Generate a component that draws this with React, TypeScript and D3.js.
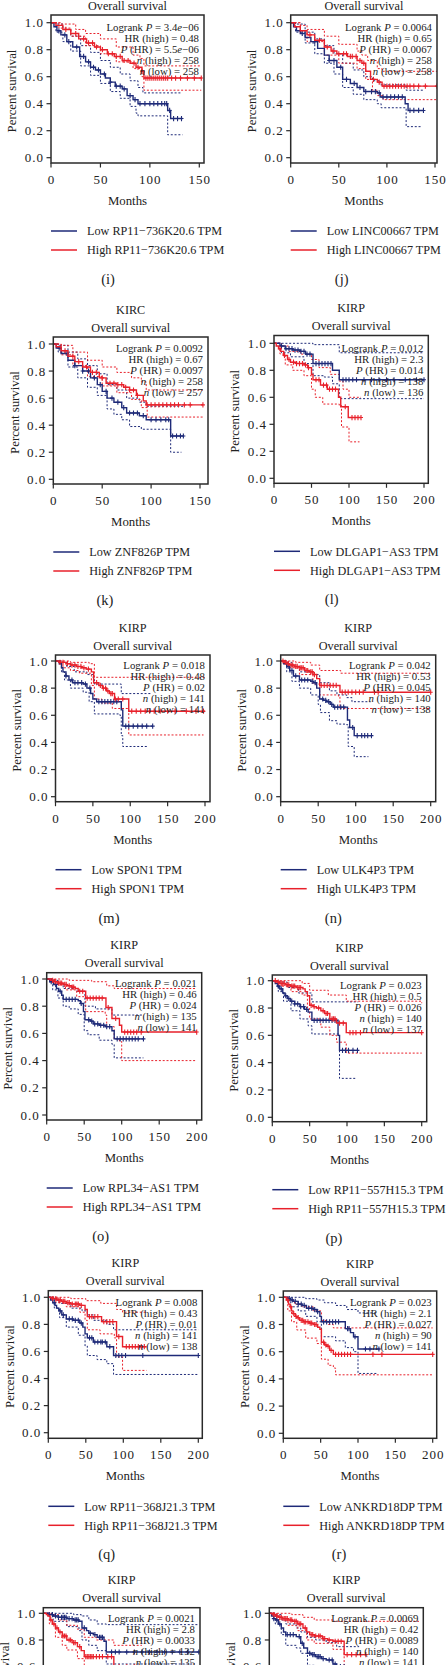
import React from "react";
import * as d3 from "d3";

type Pt = [number, number];

// ---------- text data ----------
const panelLetters = ["(i)", "(j)", "(k)", "(l)", "(m)", "(n)", "(o)", "(p)", "(q)", "(r)", "(s)", "(t)"];
const cancers = ["KIRC", "KIRC", "KIRC", "KIRP", "KIRP", "KIRP", "KIRP", "KIRP", "KIRP", "KIRP", "KIRP", "KIRP"];
const genes: (string | null)[] = ["RP11−736K20.6", "LINC00667", "ZNF826P", "DLGAP1−AS3", "SPON1", "ULK4P3", "RPL34−AS1", "RP11−557H15.3", "RP11−368J21.3", "ANKRD18DP", null, null];
const logrankP = ["3.4e−06", "0.0064", "0.0092", "0.012", "0.018", "0.042", "0.021", "0.023", "0.008", "0.023", "0.0021", "0.0069"];
const hrHigh = ["0.48", "0.65", "0.67", "2.3", "0.48", "0.53", "0.46", "0.5", "0.43", "2.1", "2.8", "0.42"];
const pHR = ["5.5e−06", "0.0067", "0.0097", "0.014", "0.02", "0.045", "0.024", "0.026", "0.01", "0.027", "0.0033", "0.0089"];
const nHigh = ["258", "258", "258", "138", "141", "140", "135", "140", "141", "90", "132", "140"];
const nLow = ["258", "258", "257", "136", "141", "138", "141", "137", "138", "141", "135", "141"];
const xTicks150 = [0, 50, 100, 150];
const xTicks200 = [0, 50, 100, 150, 200];
const yTicks = [0, 0.2, 0.4, 0.6, 0.8, 1.0];

// ---------- survival data (month, survival) ----------
// panel i
const iHigh: Pt[] = [[0,1],[5,0.98],[12,0.95],[20,0.92],[28,0.88],[36,0.85],[44,0.82],[50,0.80],[57,0.77],[64,0.75],[72,0.72],[80,0.70],[86,0.67],[92,0.64],[94,0.59],[152,0.59]];
const iHighUp: Pt[] = [[0,1],[10,0.99],[25,0.95],[35,0.92],[50,0.88],[66,0.82],[83,0.76],[90,0.735],[94,0.68],[152,0.68]];
const iHighLo: Pt[] = [[0,1],[8,0.96],[20,0.90],[35,0.83],[50,0.77],[66,0.71],[83,0.66],[92,0.60],[94,0.50],[152,0.50]];
const iHighCens = [15,25,33,38,42,46,52,58,62,66,70,74,78,84,88,92,96,98,100,102,104,106,108,110,112,114,116,118,122,126,131,138,145,152];
const iLow: Pt[] = [[0,1],[3,0.97],[6,0.94],[10,0.91],[16,0.86],[22,0.82],[29,0.75],[35,0.71],[40,0.67],[45,0.65],[50,0.62],[55,0.59],[60,0.56],[65,0.53],[72,0.51],[77,0.46],[83,0.43],[88,0.40],[118,0.35],[121,0.29],[133,0.29]];
const iLowUp: Pt[] = [[0,1],[5,0.99],[12,0.95],[20,0.90],[30,0.83],[40,0.78],[50,0.72],[60,0.67],[70,0.62],[80,0.57],[88,0.52],[93,0.48],[132,0.48]];
const iLowLo: Pt[] = [[0,1],[5,0.93],[12,0.86],[20,0.79],[30,0.68],[40,0.61],[50,0.55],[60,0.49],[70,0.44],[80,0.38],[86,0.33],[88,0.31],[118,0.17],[133,0.17]];
const iLowCens = [8,14,18,26,33,38,43,48,54,60,66,70,74,80,85,90,95,100,104,108,112,115,117,120,124,128,132];
// panel j
const jHigh: Pt[] = [[0,1],[4,0.97],[10,0.94],[17,0.91],[25,0.87],[35,0.82],[42,0.79],[48,0.77],[59,0.75],[69,0.72],[74,0.70],[78,0.64],[83,0.58],[90,0.56],[95,0.53],[152,0.53]];
const jHighUp: Pt[] = [[0,1],[10,0.98],[17,0.95],[35,0.90],[50,0.84],[69,0.79],[74,0.76],[80,0.72],[90,0.66],[95,0.64],[152,0.64]];
const jHighLo: Pt[] = [[0,1],[10,0.92],[17,0.86],[35,0.76],[50,0.70],[69,0.66],[78,0.58],[85,0.50],[90,0.46],[96,0.43],[152,0.43]];
const jHighCens = [20,30,38,44,50,55,58,62,64,68,72,76,86,92,97,100,103,106,109,112,115,118,121,124,128,133,140,152];
const jLow: Pt[] = [[0,1],[3,0.97],[6,0.94],[10,0.92],[15,0.89],[21,0.86],[28,0.81],[35,0.76],[40,0.72],[48,0.67],[54,0.58],[62,0.55],[69,0.52],[76,0.49],[90,0.48],[93,0.45],[119,0.40],[122,0.35],[138,0.35]];
const jLowUp: Pt[] = [[0,1],[5,0.99],[15,0.93],[25,0.88],[35,0.83],[45,0.77],[54,0.70],[65,0.65],[76,0.60],[85,0.57],[93,0.54],[120,0.50],[138,0.50]];
const jLowLo: Pt[] = [[0,1],[5,0.93],[15,0.85],[25,0.77],[35,0.70],[45,0.62],[54,0.52],[65,0.47],[76,0.43],[90,0.40],[94,0.37],[120,0.23],[136,0.23]];
const jLowCens = [12,25,40,45,52,58,66,72,78,84,88,92,96,100,104,108,112,116,124,128,133,138];
// panel k
const kHigh: Pt[] = [[0,1],[3,0.98],[8,0.95],[15,0.91],[22,0.87],[30,0.83],[38,0.79],[47,0.75],[54,0.71],[65,0.70],[72,0.68],[78,0.66],[85,0.62],[92,0.58],[95,0.55],[153,0.55]];
const kHighUp: Pt[] = [[0,1],[8,0.99],[20,0.94],[35,0.88],[50,0.83],[65,0.79],[80,0.75],[90,0.72],[95,0.66],[153,0.66]];
const kHighLo: Pt[] = [[0,1],[8,0.92],[20,0.84],[35,0.76],[50,0.69],[65,0.64],[80,0.59],[90,0.53],[96,0.46],[153,0.46]];
const kHighCens = [12,20,26,34,40,44,50,58,62,66,70,74,78,82,86,96,100,104,108,112,116,120,124,128,134,140,153];
const kLow: Pt[] = [[0,1],[3,0.97],[8,0.93],[15,0.88],[22,0.84],[30,0.80],[38,0.75],[45,0.70],[50,0.65],[55,0.60],[62,0.57],[70,0.53],[75,0.49],[88,0.47],[95,0.44],[120,0.32],[133,0.32]];
const kLowUp: Pt[] = [[0,1],[5,0.99],[15,0.94],[25,0.89],[35,0.84],[45,0.78],[55,0.70],[65,0.66],[75,0.60],[88,0.57],[95,0.54],[133,0.54]];
const kLowLo: Pt[] = [[0,1],[5,0.94],[15,0.83],[25,0.75],[35,0.68],[45,0.62],[55,0.52],[62,0.48],[70,0.44],[78,0.39],[90,0.37],[120,0.20],[131,0.20]];
const kLowCens = [6,14,22,30,36,42,48,54,60,66,72,78,82,86,92,100,105,110,115,118,122,126,130,133];
// panel l
const lHigh: Pt[] = [[0,1],[3,0.98],[6,0.96],[9,0.94],[13,0.91],[18,0.88],[22,0.86],[30,0.85],[40,0.84],[45,0.82],[50,0.77],[52,0.73],[62,0.69],[71,0.66],[86,0.60],[89,0.53],[99,0.45],[116,0.45]];
const lHighUp: Pt[] = [[0,1],[10,0.98],[20,0.94],[35,0.92],[50,0.88],[60,0.82],[75,0.77],[87,0.72],[92,0.66],[100,0.60],[116,0.60]];
const lHighLo: Pt[] = [[0,1],[8,0.92],[15,0.84],[25,0.80],[40,0.76],[50,0.66],[55,0.60],[65,0.55],[87,0.54],[90,0.38],[100,0.27],[114,0.27]];
const lHighCens = [8,14,20,26,30,34,38,42,46,56,60,66,70,74,78,82,95,104,108,112,116];
const lLow: Pt[] = [[0,1],[8,0.98],[15,0.96],[25,0.95],[35,0.94],[42,0.92],[52,0.85],[78,0.80],[87,0.73],[200,0.73]];
const lLowUp: Pt[] = [[0,1],[52,0.99],[87,0.93],[200,0.93]];
const lLowLo: Pt[] = [[0,1],[10,0.93],[22,0.90],[40,0.85],[52,0.76],[67,0.75],[78,0.70],[87,0.59],[200,0.59]];
const lLowCens = [10,16,20,24,28,32,36,40,44,48,56,60,64,68,72,76,92,96,100,105,110,120,130,140,150,160,175,190,200];
// panel m
const mHigh: Pt[] = [[0,1],[5,0.99],[14,0.98],[20,0.97],[28,0.96],[35,0.95],[41,0.94],[48,0.92],[51,0.84],[58,0.82],[63,0.80],[68,0.78],[72,0.76],[79,0.72],[98,0.63],[200,0.63]];
const mHighUp: Pt[] = [[0,1],[20,0.99],[45,0.98],[52,0.88],[200,0.88]];
const mHighLo: Pt[] = [[0,1],[10,0.95],[20,0.93],[32,0.91],[48,0.82],[52,0.72],[62,0.69],[76,0.65],[98,0.455],[198,0.455]];
const mHighCens = [6,10,16,22,26,30,34,38,44,55,60,64,67,70,74,76,80,84,90,102,108,114,120,126,132,140,150,160,175,188,198];
const mLow: Pt[] = [[0,1],[5,0.98],[8,0.95],[10,0.92],[14,0.89],[18,0.86],[23,0.84],[37,0.83],[42,0.80],[47,0.76],[50,0.72],[55,0.70],[86,0.70],[88,0.64],[90,0.52],[130,0.52]];
const mLowUp: Pt[] = [[0,1],[8,0.99],[15,0.96],[25,0.92],[42,0.90],[50,0.88],[52,0.83],[86,0.83],[88,0.76],[128,0.76]];
const mLowLo: Pt[] = [[0,1],[8,0.92],[12,0.86],[20,0.80],[37,0.77],[45,0.70],[52,0.61],[86,0.60],[88,0.45],[90,0.37],[124,0.37]];
const mLowCens = [14,22,26,30,35,40,46,58,62,66,70,74,78,82,94,98,104,110,116,122,130];
// panel n
const nHighS: Pt[] = [[0,1],[4,0.99],[8,0.98],[12,0.97],[18,0.96],[25,0.95],[32,0.93],[38,0.92],[43,0.90],[48,0.87],[52,0.82],[77,0.82],[79,0.77],[200,0.77]];
const nHighUp: Pt[] = [[0,1],[20,0.99],[40,0.97],[52,0.93],[80,0.91],[200,0.91]];
const nHighLo: Pt[] = [[0,1],[10,0.95],[25,0.90],[43,0.83],[52,0.75],[77,0.74],[79,0.65],[198,0.65]];
const nHighCens = [3,6,10,14,16,20,22,26,28,30,34,36,40,42,45,54,58,62,66,70,74,82,86,90,95,100,105,110,125,130,200];
const nLowS: Pt[] = [[0,1],[4,0.98],[8,0.96],[12,0.93],[17,0.89],[25,0.86],[40,0.85],[44,0.84],[48,0.80],[52,0.72],[57,0.71],[61,0.70],[66,0.68],[70,0.66],[88,0.66],[89,0.565],[92,0.51],[98,0.45],[122,0.45]];
const nLowUp: Pt[] = [[0,1],[8,0.99],[15,0.96],[25,0.92],[45,0.90],[52,0.84],[65,0.78],[75,0.75],[88,0.73],[95,0.70],[120,0.70]];
const nLowLo: Pt[] = [[0,1],[8,0.92],[15,0.85],[25,0.80],[40,0.75],[50,0.68],[53,0.62],[65,0.56],[75,0.535],[88,0.53],[90,0.37],[98,0.295],[117,0.295]];
const nLowCens = [10,15,20,28,32,36,42,46,56,60,64,68,72,76,80,84,96,102,108,112,116,121];
// panel o
const oHigh: Pt[] = [[0,1],[5,0.99],[9,0.98],[15,0.97],[22,0.96],[27,0.95],[33,0.94],[38,0.93],[42,0.91],[52,0.86],[78,0.86],[79,0.79],[87,0.71],[97,0.66],[100,0.61],[200,0.61]];
const oHighUp: Pt[] = [[0,1],[30,0.99],[60,0.98],[80,0.95],[90,0.93],[200,0.93]];
const oHighLo: Pt[] = [[0,1],[10,0.96],[25,0.92],[40,0.87],[52,0.76],[78,0.735],[80,0.65],[90,0.56],[97,0.54],[100,0.40],[200,0.40]];
const oHighCens = [8,12,16,18,20,24,26,30,34,36,44,48,54,58,62,66,70,74,82,92,104,108,112,116,120,126,200];
const oLow: Pt[] = [[0,1],[4,0.98],[9,0.96],[13,0.93],[16,0.91],[20,0.88],[22,0.85],[42,0.84],[45,0.82],[49,0.76],[51,0.70],[58,0.69],[62,0.67],[70,0.66],[78,0.65],[87,0.62],[90,0.56],[129,0.56]];
const oLowUp: Pt[] = [[0,1],[10,0.99],[15,0.96],[22,0.93],[40,0.91],[51,0.80],[65,0.78],[87,0.735],[129,0.735]];
const oLowLo: Pt[] = [[0,1],[8,0.92],[15,0.86],[22,0.80],[30,0.78],[42,0.74],[50,0.62],[55,0.59],[70,0.55],[87,0.52],[90,0.42],[129,0.42]];
const oLowCens = [6,12,18,26,30,34,38,46,56,60,64,68,72,76,80,84,94,98,102,106,110,114,118,122,129];
// panel p
const pHigh: Pt[] = [[0,1],[6,0.99],[10,0.98],[18,0.97],[24,0.96],[32,0.95],[41,0.94],[44,0.92],[47,0.89],[50,0.82],[55,0.81],[59,0.80],[65,0.78],[70,0.76],[77,0.72],[86,0.69],[99,0.62],[200,0.62]];
const pHighUp: Pt[] = [[0,1],[40,0.98],[50,0.93],[75,0.895],[99,0.85],[200,0.835]];
const pHighLo: Pt[] = [[0,1],[10,0.96],[25,0.92],[40,0.895],[47,0.80],[50,0.72],[65,0.66],[77,0.60],[86,0.55],[99,0.47],[200,0.47]];
const pHighCens = [4,8,12,14,16,20,22,26,28,30,34,36,38,52,56,62,68,72,74,80,82,84,90,95,104,108,112,118,200];
const pLow: Pt[] = [[0,1],[4,0.98],[7,0.96],[10,0.94],[14,0.91],[17,0.89],[20,0.87],[24,0.85],[30,0.83],[37,0.81],[43,0.79],[48,0.77],[53,0.71],[87,0.71],[88,0.60],[90,0.49],[115,0.49]];
const pLowUp: Pt[] = [[0,1],[10,0.99],[20,0.95],[35,0.91],[53,0.845],[115,0.845]];
const pLowLo: Pt[] = [[0,1],[8,0.92],[15,0.85],[25,0.78],[37,0.72],[48,0.67],[53,0.61],[87,0.61],[90,0.285],[113,0.285]];
const pLowCens = [8,12,18,22,26,30,34,38,42,46,56,60,64,68,72,76,80,84,94,98,102,108,114];
// panel q
const qHigh: Pt[] = [[0,1],[4,0.99],[11,0.98],[18,0.97],[24,0.96],[30,0.95],[42,0.94],[49,0.91],[52,0.857],[69,0.857],[71,0.82],[88,0.82],[91,0.71],[99,0.635],[131,0.635]];
const qHighUp: Pt[] = [[0,1],[30,0.99],[50,0.975],[70,0.955],[91,0.91],[99,0.89],[131,0.89]];
const qHighLo: Pt[] = [[0,1],[10,0.96],[24,0.93],[42,0.89],[49,0.83],[52,0.76],[69,0.73],[88,0.70],[91,0.56],[99,0.46],[131,0.46]];
const qHighCens = [6,10,14,16,20,22,26,28,32,36,38,40,44,55,58,62,66,74,78,82,86,94,104,108,112,116,120,124,128];
const qLow: Pt[] = [[0,1],[3,0.98],[6,0.96],[9,0.94],[11,0.92],[14,0.90],[18,0.87],[24,0.84],[33,0.83],[42,0.81],[46,0.78],[49,0.73],[52,0.70],[60,0.67],[78,0.635],[87,0.57],[200,0.57]];
const qLowUp: Pt[] = [[0,1],[10,0.98],[15,0.955],[30,0.92],[45,0.90],[52,0.87],[60,0.83],[78,0.80],[87,0.76],[200,0.76]];
const qLowLo: Pt[] = [[0,1],[8,0.92],[15,0.85],[24,0.78],[40,0.72],[49,0.64],[52,0.57],[65,0.54],[78,0.51],[87,0.43],[200,0.43]];
const qLowCens = [8,16,20,28,32,36,40,44,55,58,62,66,70,72,76,82,90,94,98,103,126,200];
// panel r
const rHigh: Pt[] = [[0,1],[4,0.98],[7,0.95],[9,0.93],[11,0.90],[13,0.88],[16,0.86],[18,0.85],[22,0.83],[27,0.82],[35,0.81],[40,0.80],[46,0.78],[49,0.765],[51,0.67],[55,0.65],[58,0.64],[62,0.61],[67,0.58],[200,0.58]];
const rHighUp: Pt[] = [[0,1],[8,0.98],[15,0.95],[25,0.93],[40,0.90],[51,0.83],[60,0.80],[67,0.775],[200,0.775]];
const rHighLo: Pt[] = [[0,1],[6,0.90],[11,0.82],[18,0.76],[30,0.70],[45,0.66],[51,0.545],[60,0.50],[67,0.48],[70,0.43],[199,0.43]];
const rHighCens = [6,10,14,17,20,24,26,28,30,33,36,38,42,44,54,57,60,64,70,74,78,82,86,90,120,132,200];
const rLow: Pt[] = [[0,1],[5,0.99],[9,0.98],[13,0.97],[20,0.95],[25,0.94],[31,0.92],[40,0.91],[45,0.895],[49,0.86],[51,0.82],[80,0.82],[83,0.77],[90,0.74],[94,0.71],[100,0.62],[129,0.62]];
const rLowUp: Pt[] = [[0,1],[30,0.99],[45,0.98],[55,0.96],[70,0.94],[85,0.91],[100,0.885],[125,0.885]];
const rLowLo: Pt[] = [[0,1],[10,0.93],[20,0.90],[30,0.86],[45,0.82],[51,0.71],[70,0.68],[83,0.63],[94,0.60],[100,0.44],[125,0.44]];
const rLowCens = [8,12,16,20,24,28,34,38,42,46,54,58,62,66,70,74,86,88,96,110,116,128];
// panel s
const sHigh: Pt[] = [[0,1],[4,0.99],[6,0.98],[9,0.95],[12,0.92],[16,0.89],[20,0.86],[25,0.83],[31,0.80],[38,0.78],[45,0.75],[50,0.72],[54,0.675],[93,0.60],[130,0.60]];
const sHighUp: Pt[] = [[0,1],[10,0.99],[20,0.95],[31,0.91],[45,0.88],[54,0.82],[70,0.80],[93,0.76],[130,0.76]];
const sHighLo: Pt[] = [[0,1],[8,0.92],[16,0.82],[25,0.76],[31,0.725],[45,0.66],[54,0.58],[93,0.50],[130,0.45]];
const sHighCens = [10,14,18,22,26,28,30,34,36,40,42,48,56,58,60,62,64,66,70,74,78,85,90,100,110,120];
const sLow: Pt[] = [[0,1],[6,0.99],[13,0.98],[20,0.97],[31,0.96],[40,0.95],[47,0.94],[51,0.89],[57,0.87],[60,0.85],[66,0.84],[71,0.82],[80,0.79],[83,0.71],[205,0.71]];
const sLowUp: Pt[] = [[0,1],[40,0.99],[50,0.98],[60,0.95],[71,0.92],[83,0.915],[205,0.915]];
const sLowLo: Pt[] = [[0,1],[13,0.94],[31,0.90],[47,0.87],[51,0.80],[60,0.76],[71,0.72],[83,0.62],[200,0.62]];
const sLowCens = [8,12,16,20,24,26,28,30,34,38,42,44,46,54,62,68,74,76,78,90,95,100,110,120,130,140,150,160,170,180,190,205];
// panel t
const tHigh: Pt[] = [[0,1],[4,0.99],[8,0.98],[12,0.97],[18,0.96],[25,0.95],[31,0.94],[38,0.92],[45,0.89],[50,0.86],[54,0.84],[60,0.83],[71,0.81],[78,0.80],[85,0.79],[100,0.69],[129,0.69]];
const tHighUp: Pt[] = [[0,1],[30,0.99],[45,0.97],[60,0.95],[85,0.94],[200,0.94]];
const tHighLo: Pt[] = [[0,1],[10,0.95],[25,0.91],[38,0.87],[50,0.80],[60,0.775],[85,0.73],[100,0.60],[129,0.58]];
const tHighCens = [6,10,14,16,20,22,24,28,30,34,36,40,42,48,56,58,62,66,68,72,74,80,88,92,96,104,110,116,122,129];
const tLow: Pt[] = [[0,1],[3,0.98],[6,0.96],[9,0.95],[12,0.92],[16,0.89],[19,0.86],[22,0.84],[36,0.825],[42,0.775],[46,0.74],[51,0.70],[56,0.69],[62,0.675],[70,0.66],[76,0.65],[85,0.62],[90,0.60],[120,0.58]];
const tLowUp: Pt[] = [[0,1],[8,0.99],[16,0.95],[22,0.92],[36,0.89],[42,0.86],[51,0.82],[62,0.80],[76,0.78],[90,0.75],[120,0.75]];
const tLowLo: Pt[] = [[0,1],[8,0.92],[16,0.84],[22,0.76],[36,0.74],[42,0.70],[51,0.61],[62,0.58],[90,0.50],[120,0.48]];
const tLowCens = [6,10,14,24,28,32,40,44,54,58,60,64,66,68,72,80,84,88,95,100];

// ---------- layout (pixel geometry per panel) ----------
const layouts = [
  { L: 51, R: 204, T: 15, B: 163, y1: 22.7, y0: 157.7, xEnd: 199.3, lab: 108 },
  { L: 290.7, R: 437, T: 15, B: 163, y1: 22.7, y0: 157.7, xEnd: 435, lab: 341.7 },
  { L: 53.3, R: 208, T: 337, B: 484, y1: 344, y0: 479.3, xEnd: 200, lab: 105 },
  { L: 274, R: 428.3, T: 335.5, B: 483.3, y1: 343.3, y0: 478.3, xEnd: 424, lab: 331.7 },
  { L: 55.5, R: 210, T: 655, B: 801.7, y1: 661, y0: 796.7, xEnd: 205, lab: 109 },
  { L: 280.7, R: 435.7, T: 655, B: 801.7, y1: 661, y0: 796.7, xEnd: 430.7, lab: 333.3 },
  { L: 46.7, R: 201.7, T: 972.7, B: 1120, y1: 979, y0: 1115, xEnd: 196.7, lab: 100.7 },
  { L: 272.3, R: 426.7, T: 975, B: 1121.7, y1: 980.7, y0: 1117.3, xEnd: 421.7, lab: 334 },
  { L: 48.3, R: 202.3, T: 1290.7, B: 1438.3, y1: 1297.3, y0: 1432.7, xEnd: 198.3, lab: 106.7 },
  { L: 283.3, R: 436.7, T: 1291, B: 1438.3, y1: 1297.3, y0: 1433.3, xEnd: 432.7, lab: 339 },
  { L: 43.3, R: 200, T: 1607.7, B: 1755, y1: 1613.3, y0: 1746.7, xEnd: 195, lab: 100 },
  { L: 269.3, R: 423.3, T: 1607.7, B: 1755, y1: 1613.3, y0: 1746.7, xEnd: 419, lab: 325 },
];

const curves = [
  { high: iHigh, hu: iHighUp, hl: iHighLo, hc: iHighCens, low: iLow, lu: iLowUp, ll: iLowLo, lc: iLowCens, ticks: xTicks150 },
  { high: jHigh, hu: jHighUp, hl: jHighLo, hc: jHighCens, low: jLow, lu: jLowUp, ll: jLowLo, lc: jLowCens, ticks: xTicks150 },
  { high: kHigh, hu: kHighUp, hl: kHighLo, hc: kHighCens, low: kLow, lu: kLowUp, ll: kLowLo, lc: kLowCens, ticks: xTicks150 },
  { high: lHigh, hu: lHighUp, hl: lHighLo, hc: lHighCens, low: lLow, lu: lLowUp, ll: lLowLo, lc: lLowCens, ticks: xTicks200 },
  { high: mHigh, hu: mHighUp, hl: mHighLo, hc: mHighCens, low: mLow, lu: mLowUp, ll: mLowLo, lc: mLowCens, ticks: xTicks200 },
  { high: nHighS, hu: nHighUp, hl: nHighLo, hc: nHighCens, low: nLowS, lu: nLowUp, ll: nLowLo, lc: nLowCens, ticks: xTicks200 },
  { high: oHigh, hu: oHighUp, hl: oHighLo, hc: oHighCens, low: oLow, lu: oLowUp, ll: oLowLo, lc: oLowCens, ticks: xTicks200 },
  { high: pHigh, hu: pHighUp, hl: pHighLo, hc: pHighCens, low: pLow, lu: pLowUp, ll: pLowLo, lc: pLowCens, ticks: xTicks200 },
  { high: qHigh, hu: qHighUp, hl: qHighLo, hc: qHighCens, low: qLow, lu: qLowUp, ll: qLowLo, lc: qLowCens, ticks: xTicks200 },
  { high: rHigh, hu: rHighUp, hl: rHighLo, hc: rHighCens, low: rLow, lu: rLowUp, ll: rLowLo, lc: rLowCens, ticks: xTicks200 },
  { high: sHigh, hu: sHighUp, hl: sHighLo, hc: sHighCens, low: sLow, lu: sLowUp, ll: sLowLo, lc: sLowCens, ticks: xTicks200 },
  { high: tHigh, hu: tHighUp, hl: tHighLo, hc: tHighCens, low: tLow, lu: tLowUp, ll: tLowLo, lc: tLowCens, ticks: xTicks200 },
];

const PAGE_H = 1665;
const RED = "#E8212B";
const BLUE = "#1E2A78";
const FRAME = "#2a2a2a";
const FONT = "'Liberation Serif', 'Times New Roman', serif";

function stepAt(c: Pt[], t: number) {
  let v = 1;
  for (const [tt, s] of c) if (tt <= t) v = s;
  return v;
}

function ValueText({ v }: { v: string }) {
  const i = v.indexOf("e");
  if (i < 0) return <>{v}</>;
  return (
    <>
      {v.slice(0, i)}
      <tspan fontStyle="italic">e</tspan>
      {v.slice(i + 1)}
    </>
  );
}

const visible = (yy: number) => yy < PAGE_H + 2;

function Panel({ idx }: { idx: number }) {
  const g = layouts[idx];
  const c = curves[idx];
  const xMax = c.ticks[c.ticks.length - 1];
  const x = d3.scaleLinear().domain([0, xMax]).range([g.L, g.xEnd]);
  const y = d3.scaleLinear().domain([0, 1]).range([g.y0, g.y1]);
  const line = d3
    .line<Pt>()
    .x((d) => x(d[0]))
    .y((d) => y(d[1]))
    .curve(d3.curveStepAfter);
  const cx = (g.L + g.R) / 2;
  const fmt = d3.format(".1f");
  const statX = g.R - 5;
  const statY0 = g.y1 + 4.5;
  const fsStat = 10.8;
  const stat = (k: number, content: React.ReactNode) =>
    visible(statY0 + k * 11) ? (
      <text key={k} x={statX} y={statY0 + k * 11} dy="0.35em" textAnchor="end" fontSize={fsStat}>
        {content}
      </text>
    ) : null;
  const cens = (curve: Pt[], ts: number[], color: string) => {
    const end = curve[curve.length - 1][0];
    const dstr = ts
      .filter((t) => t <= end)
      .map((t) => {
        const px = x(t);
        const py = y(stepAt(curve, t));
        return `M${px},${py - 2.6}V${py + 2.6}M${px - 2},${py}H${px + 2}`;
      })
      .join("");
    return <path d={dstr} stroke={color} strokeWidth={1.1} fill="none" />;
  };
  const clipId = `clip${idx}`;
  return (
    <g fontFamily={FONT} fill="#222">
      <defs>
        <clipPath id={clipId}>
          <rect x={g.L} y={g.T} width={g.R - g.L} height={g.B - g.T} />
        </clipPath>
      </defs>
      {g.T - 27.5 > 0 && (
        <text x={cx} y={g.T - 27.5} dy="0.35em" textAnchor="middle" fontSize={12.2}>
          {cancers[idx]}
        </text>
      )}
      <text x={cx} y={g.T - 9.5} dy="0.35em" textAnchor="middle" fontSize={12.2}>
        Overall survival
      </text>
      <g clipPath={`url(#${clipId})`}>
        <path d={line(c.lu) || ""} stroke={BLUE} strokeWidth={1} strokeDasharray="2,1.8" fill="none" />
        <path d={line(c.ll) || ""} stroke={BLUE} strokeWidth={1} strokeDasharray="2,1.8" fill="none" />
        <path d={line(c.hu) || ""} stroke={RED} strokeWidth={1} strokeDasharray="2,1.8" fill="none" />
        <path d={line(c.hl) || ""} stroke={RED} strokeWidth={1} strokeDasharray="2,1.8" fill="none" />
        <path d={line(c.low) || ""} stroke={BLUE} strokeWidth={1.4} fill="none" />
        {cens(c.low, c.lc, BLUE)}
        <path d={line(c.high) || ""} stroke={RED} strokeWidth={1.4} fill="none" />
        {cens(c.high, c.hc, RED)}
      </g>
      <rect x={g.L} y={g.T} width={g.R - g.L} height={g.B - g.T} fill="none" stroke={FRAME} strokeWidth={1.5} />
      {yTicks.map((t) => (
        <g key={t}>
          <line x1={g.L - 4.5} x2={g.L} y1={y(t)} y2={y(t)} stroke={FRAME} strokeWidth={1.2} />
          {visible(y(t)) && (
            <text x={g.L - 7} y={y(t)} dy="0.35em" textAnchor="end" fontSize={13} letterSpacing={1}>
              {fmt(t)}
            </text>
          )}
        </g>
      ))}
      {c.ticks.map((t) => (
        <g key={t}>
          <line x1={x(t)} x2={x(t)} y1={g.B} y2={g.B + 4.5} stroke={FRAME} strokeWidth={1.2} />
          {visible(g.B + 16.5) && (
            <text x={x(t) + 0.5} y={g.B + 16.5} dy="0.35em" textAnchor="middle" fontSize={13} letterSpacing={1}>
              {t}
            </text>
          )}
        </g>
      ))}
      {visible(g.B + 37.5) && (
        <text x={cx} y={g.B + 37.5} dy="0.35em" textAnchor="middle" fontSize={12.8}>
          Months
        </text>
      )}
      <text
        transform={`translate(${g.L - 39},${(g.T + g.B) / 2 + 2}) rotate(-90)`}
        dy="0.35em"
        textAnchor="middle"
        fontSize={12.8}
      >
        Percent survival
      </text>
      {stat(0, <>Logrank <tspan fontStyle="italic">P</tspan> = <ValueText v={logrankP[idx]} /></>)}
      {stat(1, <>HR (high) = {hrHigh[idx]}</>)}
      {stat(2, <><tspan fontStyle="italic">P</tspan> (HR) = <ValueText v={pHR[idx]} /></>)}
      {stat(3, <><tspan fontStyle="italic">n</tspan> (high) = {nHigh[idx]}</>)}
      {stat(4, <><tspan fontStyle="italic">n</tspan> (low) = {nLow[idx]}</>)}
      {genes[idx] && (
        <g>
          <line x1={g.L} x2={g.L + 26} y1={g.B + 68} y2={g.B + 68} stroke={BLUE} strokeWidth={1.5} />
          <text x={g.L + 36} y={g.B + 68} dy="0.35em" fontSize={12.2}>
            {`Low ${genes[idx]} TPM`}
          </text>
          <line x1={g.L} x2={g.L + 26} y1={g.B + 87} y2={g.B + 87} stroke={RED} strokeWidth={1.5} />
          <text x={g.L + 36} y={g.B + 87} dy="0.35em" fontSize={12.2}>
            {`High ${genes[idx]} TPM`}
          </text>
        </g>
      )}
      {visible(g.B + 116) && (
        <text x={g.lab} y={g.B + 116} dy="0.35em" textAnchor="middle" fontSize={14.5}>
          {panelLetters[idx]}
        </text>
      )}
    </g>
  );
}

export default function App() {
  return (
    <svg
      width={447}
      height={1665}
      viewBox="0 0 447 1665"
      style={{ position: "absolute", left: 0, top: 0, background: "#fff" }}
    >
      <rect x={0} y={0} width={447} height={1665} fill="#fff" />
      {layouts.map((_, i) => (
        <Panel key={i} idx={i} />
      ))}
    </svg>
  );
}
